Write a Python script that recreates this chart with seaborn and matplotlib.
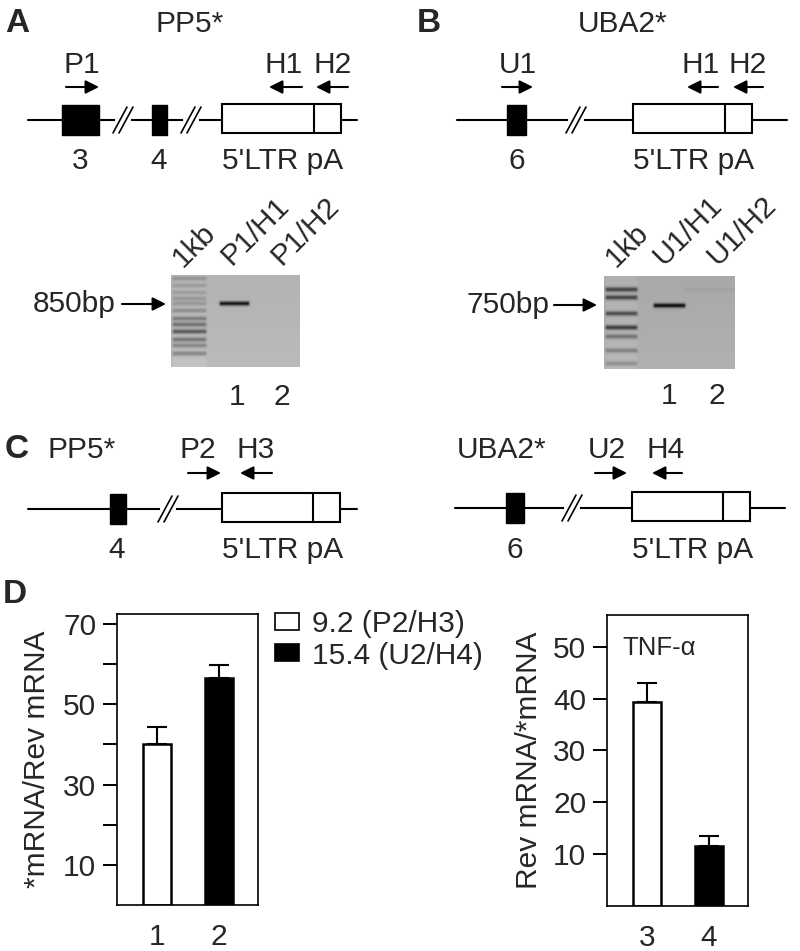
import numpy as np
import pandas as pd
import matplotlib
matplotlib.use("Agg")
import matplotlib.pyplot as plt
from matplotlib.patches import Rectangle, Patch
import seaborn as sns

sns.set_style("ticks")
plt.rcParams['font.family'] = ['Liberation Sans', 'DejaVu Sans']
plt.rcParams['font.size'] = 21.5

# ---- data ----
pp5_lanes = ["1", "2"]
pp5_vals = [40.0, 56.5]
pp5_err = [4.3, 3.4]

tnf_lanes = ["3", "4"]
tnf_vals = [39.4, 11.5]
tnf_err = [3.7, 2.0]

legend_labels = ["9.2 (P2/H3)", "15.4 (U2/H4)"]
bar_colors = ["white", "black"]

gel_a_lanes = ["1kb", "P1/H1", "P1/H2"]
gel_b_lanes = ["1kb", "U1/H1", "U1/H2"]
ladder_a_rows = [3, 10, 17, 23, 28, 35, 43, 49, 56, 64, 70, 78]
ladder_a_int = [0.15, 0.12, 0.12, 0.14, 0.14, 0.18, 0.25, 0.3, 0.38, 0.28, 0.22, 0.22]
ladder_b_rows = [13, 21, 37, 51, 60, 74, 87]
ladder_b_int = [0.42, 0.42, 0.38, 0.45, 0.25, 0.2, 0.15]
band_a_row = 28
band_b_row = 29

fig = plt.figure(figsize=(8, 9.51), dpi=100)
H = 951.0

# overlay in pixel coordinates for schematics and gels
ov = fig.add_axes([0, 0, 1, 1])
ov.set_xlim(0, 800)
ov.set_ylim(951, 0)
ov.axis("off")
ov.patch.set_alpha(0)


def gene(y, x0, x1, exons, breaks, ltr):
    ov.plot([x0, x1], [y, y], color="k", lw=1.5, zorder=1)
    for a, b in exons:
        ov.add_patch(Rectangle((a, y - 15), b - a, 30, fc="k", ec="k", lw=1, zorder=2))
    for bx in breaks:
        ov.plot([bx - 3, bx + 9], [y, y], color="white", lw=3, zorder=2)
        for dx in (0, 6):
            ov.plot([bx - 7 + dx, bx + 7 + dx], [y + 13, y - 13], color="k", lw=1.2, zorder=3)
    a, d, b = ltr
    ov.add_patch(Rectangle((a, y - 16), b - a, 29, fc="white", ec="k", lw=1.5, zorder=2))
    ov.plot([d, d], [y - 16, y + 13], color="k", lw=1.5, zorder=3)


def primer(x_tail, x_head, y):
    ov.annotate("", xy=(x_head, y), xytext=(x_tail, y),
                arrowprops=dict(arrowstyle="-|>", color="k", lw=1.5,
                                mutation_scale=20, shrinkA=0, shrinkB=0))


def gel(x0, x1, y0, y1, bg, rows, ints, lad_w, band_row, band_cols, faint=None):
    h, w = int(y1 - y0), int(x1 - x0)
    yy = np.arange(h)[:, None]
    xx = np.arange(w)[None, :]
    img = np.full((h, w), bg) + 0.03 * (yy / h)
    lad = np.exp(-0.5 * (np.maximum(np.abs(xx - lad_w / 2) - lad_w / 2 + 3, 0) / 1.5) ** 2)
    img = img + 0.03 * lad
    for r, s in zip(rows, ints):
        img = img - s * np.exp(-0.5 * ((yy - r) / 1.7) ** 2) * lad
    c0, c1 = band_cols
    bcol = np.exp(-0.5 * (np.maximum(np.abs(xx - (c0 + c1) / 2) - (c1 - c0) / 2 + 2, 0) / 1.5) ** 2)
    img = img - 0.6 * np.exp(-0.5 * ((yy - band_row) / 1.6) ** 2) * bcol
    if faint is not None:
        fr, f0, f1 = faint
        fcol = ((xx >= f0) & (xx <= f1)).astype(float)
        img = img - 0.03 * np.exp(-0.5 * ((yy - fr) / 1.5) ** 2) * fcol
    img = np.clip(img, 0, 1)
    ov.imshow(img, cmap="gray", vmin=0, vmax=1, extent=(x0, x1, y1, y0),
              aspect="auto", interpolation="bilinear", zorder=1)


# ---- panel A ----
ov.text(5, 32, "A", fontsize=24, fontweight="bold")
ov.text(190, 32, "PP5*", ha="center")
gene(120, 28, 357, [(62, 99), (152, 167)], [120, 188], (222, 314, 341))
for lab, x in [("P1", 82), ("H1", 284), ("H2", 333)]:
    ov.text(x, 73, lab, ha="center")
primer(66, 99, 87)
primer(302, 269, 87)
primer(348, 316, 87)
ov.text(80, 169, "3", ha="center")
ov.text(159, 169, "4", ha="center")
ov.text(222, 169, "5'LTR pA", ha="left")

# ---- panel B ----
ov.text(417, 32, "B", fontsize=24, fontweight="bold")
ov.text(623, 32, "UBA2*", ha="center")
gene(120, 457, 787, [(507, 526)], [573], (633, 725, 752))
for lab, x in [("U1", 518), ("H1", 701), ("H2", 748)]:
    ov.text(x, 73, lab, ha="center")
primer(502, 533, 87)
primer(718, 687, 87)
primer(763, 733, 87)
ov.text(517, 169, "6", ha="center")
ov.text(633, 169, "5'LTR pA", ha="left")

# ---- gels ----
gel(171, 300, 275, 367, 0.70, ladder_a_rows, ladder_a_int, 36, band_a_row, (48, 78))
gel(604, 735, 276, 369, 0.66, ladder_b_rows, ladder_b_int, 34, band_b_row, (49, 81),
    faint=(13, 80, 130))
for lab, (x, y) in zip(gel_a_lanes, [(183, 268), (231, 266), (281, 266)]):
    ov.text(x, y, lab, rotation=45, rotation_mode="anchor", ha="left", va="baseline")
for lab, (x, y) in zip(gel_b_lanes, [(616, 268), (664, 266), (718, 266)]):
    ov.text(x, y, lab, rotation=45, rotation_mode="anchor", ha="left", va="baseline")
ov.text(33, 312, "850bp", ha="left")
primer(122, 166, 304)
ov.text(467, 313, "750bp", ha="left")
primer(554, 597, 305)
ov.text(237, 405, "1", ha="center")
ov.text(282, 405, "2", ha="center")
ov.text(669, 404, "1", ha="center")
ov.text(717, 404, "2", ha="center")

# ---- panel C ----
ov.text(5, 458, "C", fontsize=24, fontweight="bold")
ov.text(48, 458, "PP5*", ha="left")
gene(509, 28, 357, [(110, 126)], [165], (222, 313, 340))
ov.text(198, 458, "P2", ha="center")
ov.text(256, 458, "H3", ha="center")
primer(188, 221, 473)
primer(272, 240, 473)
ov.text(117, 558, "4", ha="center")
ov.text(222, 558, "5'LTR pA", ha="left")

ov.text(457, 458, "UBA2*", ha="left")
gene(508, 455, 785, [(506, 524)], [569], (632, 723, 750))
ov.text(607, 458, "U2", ha="center")
ov.text(666, 458, "H4", ha="center")
primer(595, 627, 473)
primer(682, 652, 473)
ov.text(515, 558, "6", ha="center")
ov.text(632, 558, "5'LTR pA", ha="left")

# ---- panel D ----
ov.text(3, 603, "D", fontsize=24, fontweight="bold")

ax1 = fig.add_axes([117 / 800, (H - 905) / H, 141 / 800, 291 / H])
ax2 = fig.add_axes([607 / 800, (H - 905.5) / H, 140.5 / 800, 291 / H])

df1 = pd.DataFrame({"lane": pp5_lanes, "ratio": pp5_vals})
df2 = pd.DataFrame({"lane": tnf_lanes, "ratio": tnf_vals})

for ax, df, err in [(ax1, df1, pp5_err), (ax2, df2, tnf_err)]:
    sns.barplot(data=df, x="lane", y="ratio", hue="lane", palette=bar_colors,
                edgecolor="black", linewidth=1.8, width=0.46, legend=False, ax=ax)
    ax.errorbar(x=[0, 1], y=df["ratio"], yerr=[[0, 0], err], fmt="none",
                ecolor="black", elinewidth=1.5, capsize=7, capthick=1.5, zorder=5)
    ax.set_xlim(-0.65, 1.63)
    ax.set_xlabel("")
    for s in ax.spines.values():
        s.set_linewidth(1.2)
        s.set_color("black")
        s.set_visible(True)

ax1.set_ylim(0, 72.5)
ax1.set_yticks([10, 30, 50, 70])
ax1.set_yticks([20, 40, 60], minor=True)
ax1.set_ylabel("*mRNA/Rev mRNA", labelpad=9)

ax2.set_ylim(0, 56.3)
ax2.set_yticks([10, 20, 30, 40, 50])
ax2.set_ylabel("Rev mRNA/*mRNA", labelpad=7)
ax2.text(0.11, 0.86, "TNF-α", transform=ax2.transAxes, fontsize=18.5)

for ax in (ax1, ax2):
    ax.tick_params(axis="x", length=0, pad=13, labelsize=21.5)
    ax.tick_params(axis="y", which="both", direction="out", left=True,
                   length=10, width=1.3, color="black", pad=5, labelsize=21.5)

# outward tick marks repeated on the top layer, placed through each axis' own scale
ov.set_zorder(10)
for ax in (ax1, ax2):
    x_left = ax.get_position().x0 * 800
    for v in list(ax.get_yticks()) + list(ax.get_yticks(minor=True)):
        y_pix = H - ax.transData.transform((0, v))[1]
        ov.plot([x_left - 14, x_left], [y_pix, y_pix], color="black", lw=1.3,
                solid_capstyle="butt", zorder=6)

handles = [Patch(fc=c, ec="black", lw=1.2) for c in bar_colors]
fig.legend(handles, legend_labels, loc="upper left",
           bbox_to_anchor=(275 / 800, 1 - 610 / H), frameon=False,
           borderpad=0, borderaxespad=0, handlelength=0.8, handleheight=0.5,
           handletextpad=0.45, labelspacing=0.12, fontsize=21.5)

fig.savefig("out.png", dpi=100)
